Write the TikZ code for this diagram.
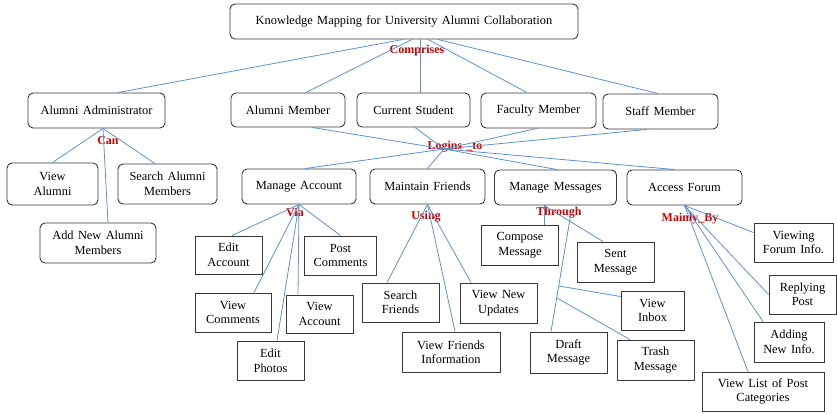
\documentclass[tikz,border=0pt]{standalone}
\usepackage{fontspec}
\setmainfont[WordSpace=1.4]{Liberation Serif}
\usetikzlibrary{positioning}
\definecolor{linkblue}{RGB}{91,146,210}
\definecolor{verbred}{RGB}{204,0,0}
\definecolor{boxgray}{RGB}{55,55,55}
\tikzstyle{group}=[rectangle,rounded corners=5pt,draw=boxgray,line width=0.9pt,fill=white,align=center,inner sep=1pt,font=\fontsize{12.4}{14.5}\selectfont]
\tikzstyle{task}=[rectangle,draw=boxgray,line width=0.9pt,fill=white,align=center,inner sep=1pt,font=\fontsize{12.4}{14.5}\selectfont]
\tikzstyle{verb}=[text=verbred,inner sep=0pt,font=\bfseries\fontsize{12}{14}\selectfont]
\tikzstyle{link}=[draw=linkblue,line width=0.8pt]
\tikzset{wh/.style 2 args={minimum width=#1pt,minimum height=#2pt}}

\begin{document}
\begin{tikzpicture}[x=1pt,y=-1pt]
  \useasboundingbox (0,0) rectangle (837,413);
  \node[group,wh={348}{35}] at (404,21.5) (top) {Knowledge Mapping for University Alumni Collaboration};
  \node[group,wh={137}{35}] at (96.5,110.5) (admin) {Alumni Administrator};
  \node[group,wh={114}{34}] at (288,110) (almember) {Alumni Member};
  \node[group,wh={113}{34}] at (413.5,110) (student) {Current Student};
  \node[group,wh={115}{35}] at (538.5,110.5) (faculty) {Faculty Member};
  \node[group,wh={115}{35}] at (660.5,111.5) (staff) {Staff Member};
  \node[group,wh={91}{42}] at (52.5,184) (viewalumni) {View\\Alumni};
  \node[group,wh={99}{40}] at (167.5,184) (searchalumni) {Search Alumni\\Members};
  \node[group,wh={116}{40}] at (98,243) (addalumni) {Add New Alumni\\Members};
  \node[group,wh={114}{35}] at (299,186.5) (manageacc) {Manage Account};
  \node[group,wh={115}{35}] at (427.5,186.5) (friends) {Maintain Friends};
  \node[group,wh={122}{35}] at (555.5,187.5) (messages) {Manage Messages};
  \node[group,wh={115}{35}] at (684.5,187.5) (forum) {Access Forum};
  \node[task,wh={67}{38}] at (228.5,255) (editacc) {Edit\\Account};
  \node[task,wh={72}{39}] at (340.5,255.5) (postcom) {Post\\Comments};
  \node[task,wh={76}{39}] at (233,312.5) (viewcom) {View\\Comments};
  \node[task,wh={67}{38}] at (319.5,314) (viewacc) {View\\Account};
  \node[task,wh={67}{39}] at (270.5,360.5) (editphotos) {Edit\\Photos};
  \node[task,wh={77}{39}] at (400.5,302.5) (searchfr) {Search\\Friends};
  \node[task,wh={98}{40}] at (451,352) (viewfrinfo) {View Friends\\Information};
  \node[task,wh={77}{40}] at (498.5,303) (newupdates) {View New\\Updates};
  \node[task,wh={77}{40}] at (520,245) (compose) {Compose\\Message};
  \node[task,wh={77}{40}] at (615.5,262) (sent) {Sent\\Message};
  \node[task,wh={77}{41}] at (568.5,352.5) (draft) {Draft\\Message};
  \node[task,wh={63}{39}] at (652.5,310.5) (inbox) {View\\Inbox};
  \node[task,wh={77}{40}] at (655.5,360) (trash) {Trash\\Message};
  \node[task,wh={79}{39}] at (793.5,242.5) (viewingforum) {Viewing\\Forum Info.};
  \node[task,wh={67}{39}] at (802.5,294.5) (replying) {Replying\\Post};
  \node[task,wh={70}{40}] at (789,342) (addinginfo) {Adding\\New Info.};
  \node[task,wh={122}{39}] at (763,391.5) (viewlist) {View List of Post\\Categories};

  \node[verb] at (417,51) (comprises) {Comprises};
  \node[verb] at (108,141) (can) {Can};
  \node[verb] at (455,147) (loginsto) {Logins \_to};
  \node[verb] at (295,212) (via) {Via};
  \node[verb] at (426,217) (using) {Using};
  \node[verb] at (559,213) (through) {Through};
  \node[verb] at (690,219) (mainlyby) {Mainly\_By};

  \coordinate (logins) at (444,149);
  \coordinate (thru) at (571,213);
  \coordinate (inboxfork) at (559,286);
  \coordinate (trashfork) at (557,298);

  \draw[link] ([xshift=-1pt]top.south) -- ([xshift=21.5pt]admin.north);
  \draw[link] ([xshift=8pt]top.south) -- ([xshift=18pt]almember.north);
  \draw[link] ([xshift=16pt]top.south) -- ([xshift=6.5pt]student.north);
  \draw[link] ([xshift=24pt]top.south) -- ([xshift=-11.5pt]faculty.north);
  \draw[link] ([xshift=34pt]top.south) -- ([xshift=-2.5pt]staff.north);

  \draw[link] ([xshift=6.5pt]admin.south) -- (viewalumni.north);
  \draw[link] ([xshift=6.5pt]admin.south) -- ([xshift=-12.5pt]searchalumni.north);
  \draw[link] ([xshift=6.5pt]admin.south) -- ([xshift=10pt]addalumni.north);

  \draw[link] ([xshift=24pt]almember.south) -- (logins);
  \draw[link] ([xshift=1.5pt]student.south) -- (logins);
  \draw[link] ([xshift=-1.5pt]faculty.south) -- (logins);
  \draw[link] ([xshift=-13.5pt]staff.south) -- (logins);
  \draw[link] (logins) -- ([xshift=6pt]manageacc.north);
  \draw[link] (logins) -- (friends.north);
  \draw[link] (logins) -- ([xshift=1.5pt]messages.north);
  \draw[link] (logins) -- ([xshift=-9.5pt]forum.north);

  \draw[link] (manageacc.south) -- ([xshift=3.5pt]editacc.north);
  \draw[link] (manageacc.south) -- (postcom.north);
  \draw[link] (manageacc.south) -- ([xshift=21pt]viewcom.north);
  \draw[link] (manageacc.south) -- ([xshift=-21.5pt]viewacc.north);
  \draw[link] (manageacc.south) -- ([xshift=6.5pt]editphotos.north);

  \draw[link] (friends.south) -- ([xshift=-13.5pt]searchfr.north);
  \draw[link] (friends.south) -- ([xshift=4pt]viewfrinfo.north);
  \draw[link] (friends.south) -- ([xshift=-27.5pt]newupdates.north);

  \draw[link] ([xshift=-11.5pt]messages.south) -- ([xshift=24pt]compose.north);
  \draw[link] ([xshift=-11.5pt]messages.south) -- ([xshift=-12.5pt]sent.north);
  \draw[link] (thru) -- ([xshift=-17.5pt]draft.north);
  \draw[link] (inboxfork) -- ([yshift=-6pt]inbox.north west);
  \draw[link] (trashfork) -- ([xshift=-25.5pt]trash.north);

  \draw[link] (forum.south) -- ([yshift=-10pt]viewingforum.north west);
  \draw[link] (forum.south) -- (replying.west);
  \draw[link] (forum.south) -- ([xshift=-26pt]addinginfo.north);
  \draw[link] (forum.south) -- ([xshift=-15pt]viewlist.north);
\end{tikzpicture}
\end{document}
